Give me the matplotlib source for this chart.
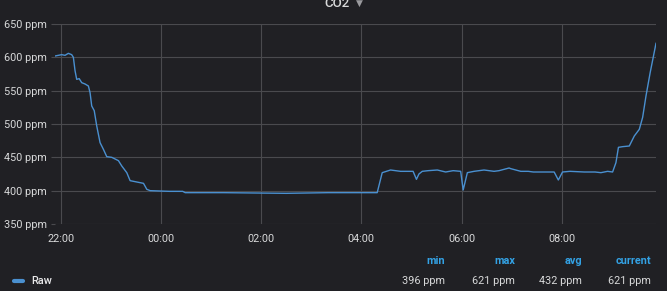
import matplotlib
matplotlib.use("Agg")
import matplotlib.pyplot as plt
import matplotlib.dates as mdates
import pandas as pd

# ---- data ----
times = ["21:53", "22:01", "22:05", "22:09", "22:13", "22:15", "22:17", "22:19",
         "22:22", "22:25", "22:29", "22:33", "22:35", "22:37", "22:40", "22:43",
         "22:47", "22:51", "22:55", "23:01", "23:09", "23:13", "23:19", "23:23",
         "23:31", "23:39", "23:43", "23:47", "00:10", "00:26", "00:29", "01:15",
         "02:30", "03:20", "04:19", "04:25", "04:35", "04:47", "05:02", "05:06",
         "05:09", "05:13", "05:20", "05:31", "05:41", "05:50", "05:59", "06:02",
         "06:07", "06:15", "06:27", "06:39", "06:45", "06:51", "06:57", "06:59",
         "07:05", "07:11", "07:20", "07:26", "07:40", "07:51", "07:56", "08:01",
         "08:10", "08:27", "08:40", "08:47", "08:55", "09:01", "09:05", "09:08",
         "09:13", "09:21", "09:27", "09:33", "09:37", "09:41", "09:46", "09:53"]
co2 = [602, 604, 603, 606, 604, 600, 580, 567,
       568, 562, 560, 557, 547, 527, 520, 497,
       472, 462, 451, 450, 445, 437, 427, 415,
       413, 411, 402, 400, 399, 399, 397, 397,
       396, 397, 397, 427, 431, 429, 429, 417,
       425, 429, 430, 431, 428, 430, 429, 401,
       427, 429, 431, 429, 430, 432, 434, 433,
       431, 429, 429, 428, 428, 428, 416, 428,
       429, 428, 428, 427, 429, 428, 442, 465,
       466, 467, 482, 492, 510, 542, 577, 621]
y_ticks = [350, 400, 450, 500, 550, 600, 650]
x_tick_times = ["22:00", "00:00", "02:00", "04:00", "06:00", "08:00"]
series_name = "Raw"
stat_names = ["min", "max", "avg", "current"]
stat_values = ["396 ppm", "621 ppm", "432 ppm", "621 ppm"]
title = "CO2"

def to_dt(t):
    h, m = map(int, t.split(":"))
    day = "2020-01-01" if h >= 12 else "2020-01-02"
    return pd.Timestamp(f"{day} {t}")

xs = [to_dt(t) for t in times]
xt = [to_dt(t) for t in x_tick_times]

BG = "#202024"
TXT = "#d8d9da"
GRID = "#4a4a4e"
LINE = "#4a90d0"
HDR = "#33a2e5"

plt.rcParams["font.family"] = ["Roboto", "DejaVu Sans"]
fig = plt.figure(figsize=(6.67, 2.91), dpi=100, facecolor=BG)
ax = fig.add_axes([55/667, 1-224/291, (656-55)/667, (224-24)/291])
ax.set_facecolor(BG)
ax.plot(xs, co2, color=LINE, lw=1.0)

ax.set_ylim(350, 650)
ax.set_yticks(y_ticks)
ax.set_yticklabels([f"{v} ppm" for v in y_ticks])
ax.set_xlim(to_dt("21:53"), to_dt("09:53"))
ax.set_xticks(xt)
ax.set_xticklabels(x_tick_times)
ax.grid(True, color=GRID, lw=0.8)
for s in ax.spines.values():
    s.set_visible(False)
ax.tick_params(axis="y", colors=GRID, labelcolor=TXT, labelsize=7.8, length=3, pad=3)
ax.tick_params(axis="x", length=0, labelcolor=TXT, labelsize=7.8, pad=7)

# title (partly cut at top, as in the reference)
fig.text(337/667, 1-7/291, title, ha="center", va="baseline", color=TXT,
         fontsize=9.5, fontweight="medium")
fig.text(359/667, 1-5.5/291, "▼", ha="center", va="baseline", color="#9a9a9e",
         fontsize=6.5, family=["DejaVu Sans"])

# legend
fig.add_artist(plt.Line2D([14/667, 23/667], [1-280.5/291]*2, color=LINE, lw=3,
                          solid_capstyle="round"))
fig.text(31/667, 1-283.5/291, series_name, ha="left", va="baseline", color="#e8e8ea",
         fontsize=7.8, fontweight="medium")
stat_x = [445, 515, 582, 651]
for sx, n, v in zip(stat_x, stat_names, stat_values):
    fig.text(sx/667, 1-264/291, n, ha="right", va="baseline", color=HDR,
             fontsize=7.8, fontweight="bold")
    fig.text(sx/667, 1-283.5/291, v, ha="right", va="baseline", color=TXT,
             fontsize=7.8)

fig.savefig("out.png", dpi=100, facecolor=BG)
